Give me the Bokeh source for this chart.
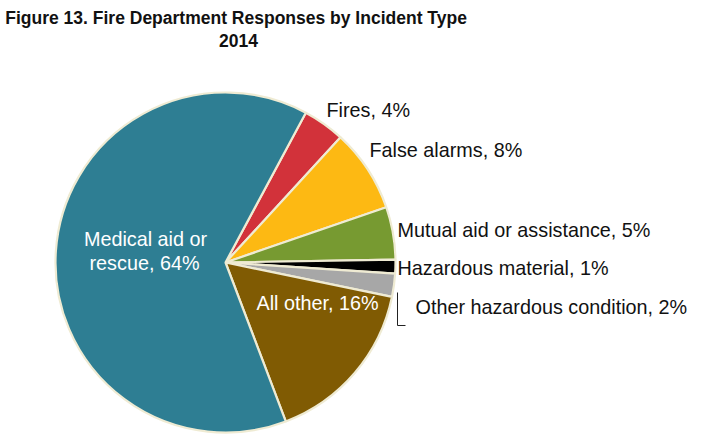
import math
from bokeh.plotting import figure
from bokeh.models import Range1d, ColumnDataSource
from bokeh.core.properties import value
from bokeh.embed import file_html
from bokeh.resources import INLINE

# ---- data ----
categories = ["Fires", "False alarms", "Mutual aid or assistance", "Hazardous material",
              "Other hazardous condition", "All other", "Medical aid or rescue"]
shares = [4.0, 7.9, 5.0, 1.3, 2.2, 16.0, 63.6]
colors = ["#D2323A", "#FDB913", "#779A31", "#000000", "#A7A7A7", "#805B03", "#2E7E93"]
title_lines = ["Figure 13.  Fire Department Responses by Incident Type", "2014"]

W, H = 700, 438
p = figure(width=W, height=H, output_backend="svg", toolbar_location=None,
           x_range=Range1d(0, W), y_range=Range1d(0, H), min_border=0)
p.axis.visible = False
p.grid.visible = False
p.outline_line_color = None
p.background_fill_color = "white"
p.border_fill_color = "white"

def X(px):
    return px
def Y(py):
    return H - py

TY = 8  # text baseline correction

cx, cy, r = X(225), Y(262), 170
start_deg = 61.8  # Fires begins here, slices run clockwise
total = sum(shares)
starts, ends = [], []
a = start_deg
for s in shares:
    b = a - s / total * 360.0
    starts.append(math.radians(b))
    ends.append(math.radians(a))
    a = b

src = ColumnDataSource(dict(start=starts, end=ends, color=colors, cat=categories))
p.wedge(x=cx, y=cy, radius=r, start_angle="start", end_angle="end",
        fill_color="color", line_color="#EFEBD3", line_width=2.2, source=src)

labels = [f"{c}, {round(s)}%" for c, s in zip(categories, shares)]
font = value("Liberation Sans")
fs = "19.8px"

# outside labels (left aligned)
out_pos = {0: (326, 117), 1: (369, 157), 2: (397, 237), 3: (397, 275), 4: (415, 314)}
ox = [X(out_pos[i][0]) for i in out_pos]
oy = [Y(out_pos[i][1] - TY) for i in out_pos]
ot = [labels[i] for i in out_pos]
p.text(x=ox, y=oy, text=ot, text_font=font, text_font_size=fs,
       text_color="#111111", text_align="left", text_baseline="alphabetic")

# leader line for Other hazardous condition
p.line(x=[X(397), X(397), X(405)], y=[Y(292), Y(325), Y(325)], line_color="#222222", line_width=1)

# inside labels (white)
med = labels[6].replace(" or rescue", " or\nrescue")
p.text(x=[X(145)], y=[Y(246.7 - TY)], text=[med.split("\n")[0]], text_font=font, text_font_size=fs,
       text_color="white", text_align="center", text_baseline="alphabetic")
p.text(x=[X(144)], y=[Y(270.7 - TY)], text=[med.split("\n")[1]], text_font=font, text_font_size=fs,
       text_color="white", text_align="center", text_baseline="alphabetic")
p.text(x=[X(317)], y=[Y(310 - TY)], text=[labels[5]], text_font=font, text_font_size=fs,
       text_color="white", text_align="center", text_baseline="alphabetic")

# title
p.text(x=[X(238), X(238)], y=[Y(25.5 - TY), Y(48 - TY)], text=title_lines,
       text_font=value("Liberation Sans"), text_font_style="bold", text_font_size="17.5px",
       text_color="#111111", text_align="center", text_baseline="alphabetic")

open("out.html", "w").write(file_html(p, INLINE))
